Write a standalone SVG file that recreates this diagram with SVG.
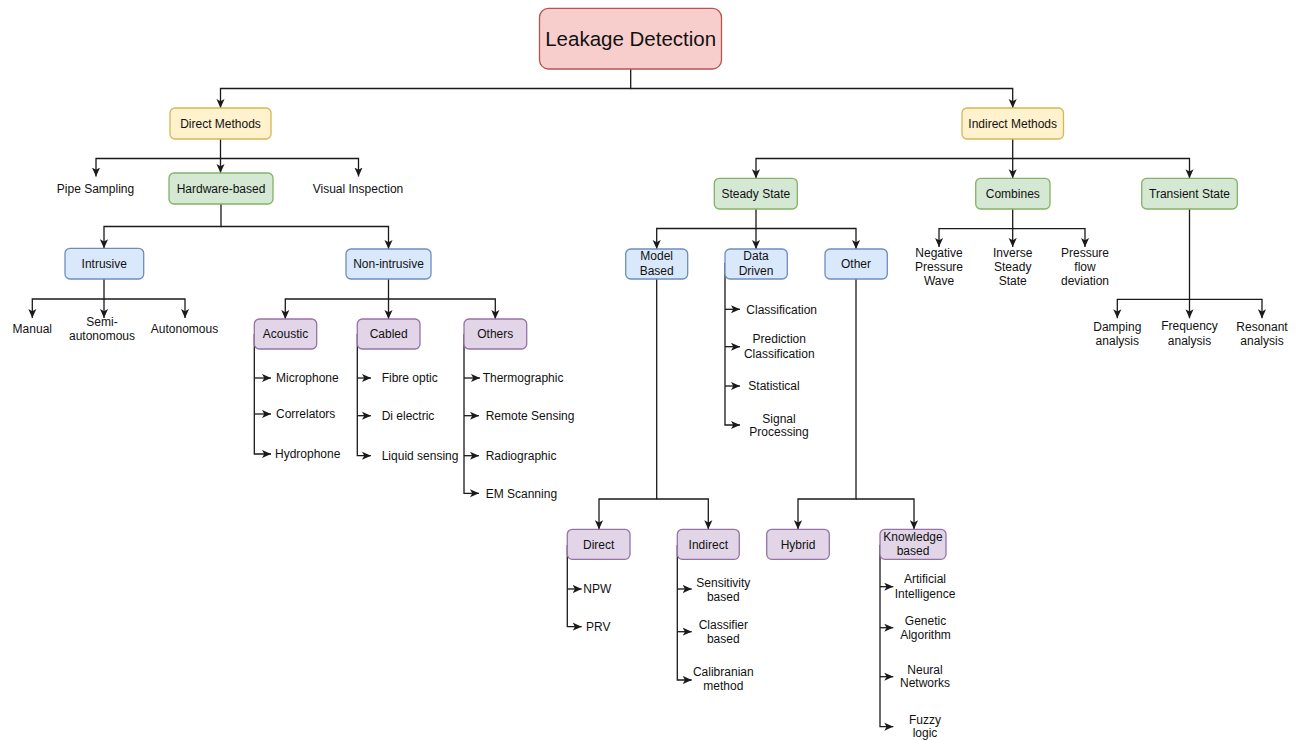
<svg xmlns="http://www.w3.org/2000/svg" width="1304" height="740" viewBox="0 0 1304 740">
<style>
text{font-family:"Liberation Sans",Arial,sans-serif;font-size:12px;fill:#111;text-anchor:middle}
text.s{text-anchor:start}
rect{stroke-width:1.3}
.red{fill:#f8cecc;stroke:#b85450}
.yel{fill:#fff2cc;stroke:#d6b656}
.grn{fill:#d5e8d4;stroke:#82b366}
.blu{fill:#dae8fc;stroke:#6c8ebf}
.pur{fill:#e1d5e7;stroke:#9673a6}
#connectors path{fill:none;stroke:#1a1a1a;stroke-width:1.3}
.a{marker-end:url(#arr)}
</style>
<defs>
<marker id="arr" viewBox="0 0 10 10" refX="10" refY="5" markerWidth="9" markerHeight="9" markerUnits="userSpaceOnUse" orient="auto">
<path d="M0,0.5 L10,5 L0,9.5 L2.5,5 z" fill="#1a1a1a"/>
</marker>
</defs>
<rect width="1304" height="740" fill="#fff"/>
<g id="connectors">
<path class="a" d="M630.7,69 V88.5 H220.5 V108"/>
<path class="a" d="M630.7,88.5 H1012.7 V108"/>
<path class="a" d="M220.5,139 V158.5 H96 V176.5"/>
<path class="a" d="M220.5,158.5 V173"/>
<path class="a" d="M220.5,158.5 H358.5 V176.5"/>
<path class="a" d="M221,204 V226.5 H104 V248.3"/>
<path class="a" d="M221,226.5 H388.5 V249"/>
<path class="a" d="M104,279 V299 H32.3 V318"/>
<path class="a" d="M104,299 V318"/>
<path class="a" d="M104,299 H185 V318"/>
<path class="a" d="M388.5,279 V299 H285.3 V319"/>
<path class="a" d="M388.5,299 V319"/>
<path class="a" d="M388.5,299 H495.3 V319"/>
<path class="a" d="M254.3,334 V454 H271"/>
<path class="a" d="M254.3,378 H271"/>
<path class="a" d="M254.3,414 H271"/>
<path class="a" d="M357.3,334 V455.7 H371"/>
<path class="a" d="M357.3,378 H371"/>
<path class="a" d="M357.3,415.7 H371"/>
<path class="a" d="M464,334 V493.3 H479"/>
<path class="a" d="M464,378 H480"/>
<path class="a" d="M464,415.7 H479"/>
<path class="a" d="M464,455.7 H479"/>
<path class="a" d="M1012.7,139 V158.5 H756 V178.3"/>
<path class="a" d="M1012.7,158.5 V178.3"/>
<path class="a" d="M1012.7,158.5 H1189.5 V178.3"/>
<path class="a" d="M756,209 V228.5 H656.7 V249"/>
<path class="a" d="M756,228.5 V249"/>
<path class="a" d="M756,228.5 H856 V249"/>
<path class="a" d="M1012.7,209 V228.7 H939 V247"/>
<path class="a" d="M1012.7,228.7 V247"/>
<path class="a" d="M1012.7,228.7 H1085 V247"/>
<path class="a" d="M1189.5,209 V299.3 H1117.3 V318.3"/>
<path class="a" d="M1189.5,299.3 V318.3"/>
<path class="a" d="M1189.5,299.3 H1262 V318.3"/>
<path class="a" d="M725,263 V425 H740"/>
<path class="a" d="M725,309.3 H740"/>
<path class="a" d="M725,346.7 H740"/>
<path class="a" d="M725,386 H740"/>
<path class="a" d="M656.7,279 V499 H599 V529.3"/>
<path class="a" d="M656.7,499 H708.3 V529.3"/>
<path class="a" d="M856,279 V499 H798 V529.3"/>
<path class="a" d="M856,499 H914 V529.3"/>
<path class="a" d="M567.3,545 V626.7 H581.7"/>
<path class="a" d="M567.3,589 H581.7"/>
<path class="a" d="M677.3,545 V680 H691.7"/>
<path class="a" d="M677.3,589 H691.7"/>
<path class="a" d="M677.3,631.7 H691.7"/>
<path class="a" d="M880,545 V726.7 H893.3"/>
<path class="a" d="M880,586.7 H893.3"/>
<path class="a" d="M880,627.7 H893.3"/>
<path class="a" d="M880,676.7 H893.3"/>
</g>
<g id="leakage-detection"><rect class="red" x="539.5" y="8.3" width="182" height="60.7" rx="9"/><text x="630.7" y="45.5" style="font-size:20.5px">Leakage Detection</text></g>
<g id="direct-methods"><rect class="yel" x="170" y="108" width="101" height="31" rx="5"/><text x="220.5" y="127.7">Direct Methods</text></g>
<g id="indirect-methods"><rect class="yel" x="962" y="108" width="101.5" height="31" rx="5"/><text x="1012.7" y="127.7">Indirect Methods</text></g>
<g id="pipe-sampling"><text x="95.5" y="192.6">Pipe Sampling</text></g>
<g id="hardware-based"><rect class="grn" x="169" y="173" width="104" height="31" rx="5"/><text x="221" y="192.7">Hardware-based</text></g>
<g id="visual-inspection"><text x="358" y="192.6">Visual Inspection</text></g>
<g id="steady-state"><rect class="grn" x="714.3" y="178.3" width="83" height="30.7" rx="5"/><text x="755.8" y="197.9">Steady State</text></g>
<g id="combines"><rect class="grn" x="975.7" y="178.3" width="74.3" height="30.7" rx="5"/><text x="1012.8" y="197.9">Combines</text></g>
<g id="transient-state"><rect class="grn" x="1141.7" y="178.3" width="95.6" height="30.7" rx="5"/><text x="1189.5" y="197.9">Transient State</text></g>
<g id="intrusive"><rect class="blu" x="65" y="248.3" width="78.7" height="30.7" rx="5"/><text x="104.3" y="268">Intrusive</text></g>
<g id="non-intrusive"><rect class="blu" x="346" y="249" width="85" height="30" rx="5"/><text x="388.5" y="268">Non-intrusive</text></g>
<g id="manual"><text x="32.3" y="333.2">Manual</text></g>
<g id="semi-autonomous"><text x="102" y="325.9">Semi-</text><text x="102" y="340.2">autonomous</text></g>
<g id="autonomous"><text x="184.5" y="333.2">Autonomous</text></g>
<g id="acoustic"><rect class="pur" x="254.3" y="319" width="62.4" height="30" rx="5"/><text x="285.5" y="338.2">Acoustic</text></g>
<g id="cabled"><rect class="pur" x="357.3" y="319" width="62.7" height="30" rx="5"/><text x="388.7" y="338.2">Cabled</text></g>
<g id="others"><rect class="pur" x="464" y="319" width="62.7" height="30" rx="5"/><text x="495.3" y="338.2">Others</text></g>
<g id="microphone"><text class="s" x="276" y="382.2">Microphone</text></g>
<g id="correlators"><text class="s" x="276" y="418.2">Correlators</text></g>
<g id="hydrophone"><text class="s" x="275" y="458.2">Hydrophone</text></g>
<g id="fibre-optic"><text class="s" x="381.7" y="382.2">Fibre optic</text></g>
<g id="di-electric"><text class="s" x="381.7" y="419.9">Di electric</text></g>
<g id="liquid-sensing"><text class="s" x="381.7" y="459.9">Liquid sensing</text></g>
<g id="thermographic"><text class="s" x="482.7" y="382.2">Thermographic</text></g>
<g id="remote-sensing"><text class="s" x="485.7" y="419.9">Remote Sensing</text></g>
<g id="radiographic"><text class="s" x="485.7" y="459.9">Radiographic</text></g>
<g id="em-scanning"><text class="s" x="485.7" y="497.5">EM Scanning</text></g>
<g id="model-based"><rect class="blu" x="625.7" y="249" width="62" height="30" rx="5"/><text x="656.7" y="259.9">Model</text><text x="656.7" y="274.5">Based</text></g>
<g id="data-driven"><rect class="blu" x="725" y="249" width="62.3" height="30" rx="5"/><text x="756" y="259.9">Data</text><text x="756" y="274.5">Driven</text></g>
<g id="other"><rect class="blu" x="825" y="249" width="62.3" height="30" rx="5"/><text x="856" y="267.5">Other</text></g>
<g id="negative-pressure-wave"><text x="939" y="256.5">Negative</text><text x="939" y="270.5">Pressure</text><text x="939" y="284.5">Wave</text></g>
<g id="inverse-steady-state"><text x="1012.7" y="256.5">Inverse</text><text x="1012.7" y="270.5">Steady</text><text x="1012.7" y="284.5">State</text></g>
<g id="pressure-flow-deviation"><text x="1085" y="256.5">Pressure</text><text x="1085" y="270.5">flow</text><text x="1085" y="284.5">deviation</text></g>
<g id="damping-analysis"><text x="1117.3" y="330.9">Damping</text><text x="1117.3" y="344.9">analysis</text></g>
<g id="frequency-analysis"><text x="1189.5" y="329.9">Frequency</text><text x="1189.5" y="344.9">analysis</text></g>
<g id="resonant-analysis"><text x="1262" y="330.9">Resonant</text><text x="1262" y="344.9">analysis</text></g>
<g id="classification"><text x="781.7" y="313.5">Classification</text></g>
<g id="prediction-classification"><text x="779.3" y="343.2">Prediction</text><text x="779.3" y="358.2">Classification</text></g>
<g id="statistical"><text x="774" y="390.2">Statistical</text></g>
<g id="signal-processing"><text x="779" y="422.5">Signal</text><text x="779" y="435.9">Processing</text></g>
<g id="direct"><rect class="pur" x="567.3" y="529.3" width="62.7" height="30" rx="5"/><text x="598.7" y="548.5">Direct</text></g>
<g id="indirect"><rect class="pur" x="677.3" y="529.3" width="62" height="30" rx="5"/><text x="708.3" y="548.5">Indirect</text></g>
<g id="hybrid"><rect class="pur" x="766.7" y="529.3" width="62.6" height="30" rx="5"/><text x="798" y="548.5">Hybrid</text></g>
<g id="knowledge-based"><rect class="pur" x="880" y="529.3" width="66" height="30" rx="5"/><text x="913" y="540.9">Knowledge</text><text x="913" y="554.9">based</text></g>
<g id="npw"><text class="s" x="583.3" y="593.2">NPW</text></g>
<g id="prv"><text class="s" x="586" y="630.9">PRV</text></g>
<g id="sensitivity-based"><text x="723.3" y="586.5">Sensitivity</text><text x="723.3" y="600.9">based</text></g>
<g id="classifier-based"><text x="723.3" y="628.5">Classifier</text><text x="723.3" y="642.5">based</text></g>
<g id="calibranian-method"><text x="723.3" y="675.9">Calibranian</text><text x="723.3" y="689.9">method</text></g>
<g id="artificial-intelligence"><text x="925" y="582.9">Artificial</text><text x="925" y="597.5">Intelligence</text></g>
<g id="genetic-algorithm"><text x="925.5" y="624.9">Genetic</text><text x="925.5" y="638.5">Algorithm</text></g>
<g id="neural-networks"><text x="925" y="673.5">Neural</text><text x="925" y="686.9">Networks</text></g>
<g id="fuzzy-logic"><text x="925" y="723.5">Fuzzy</text><text x="925" y="736.9">logic</text></g>
</svg>
